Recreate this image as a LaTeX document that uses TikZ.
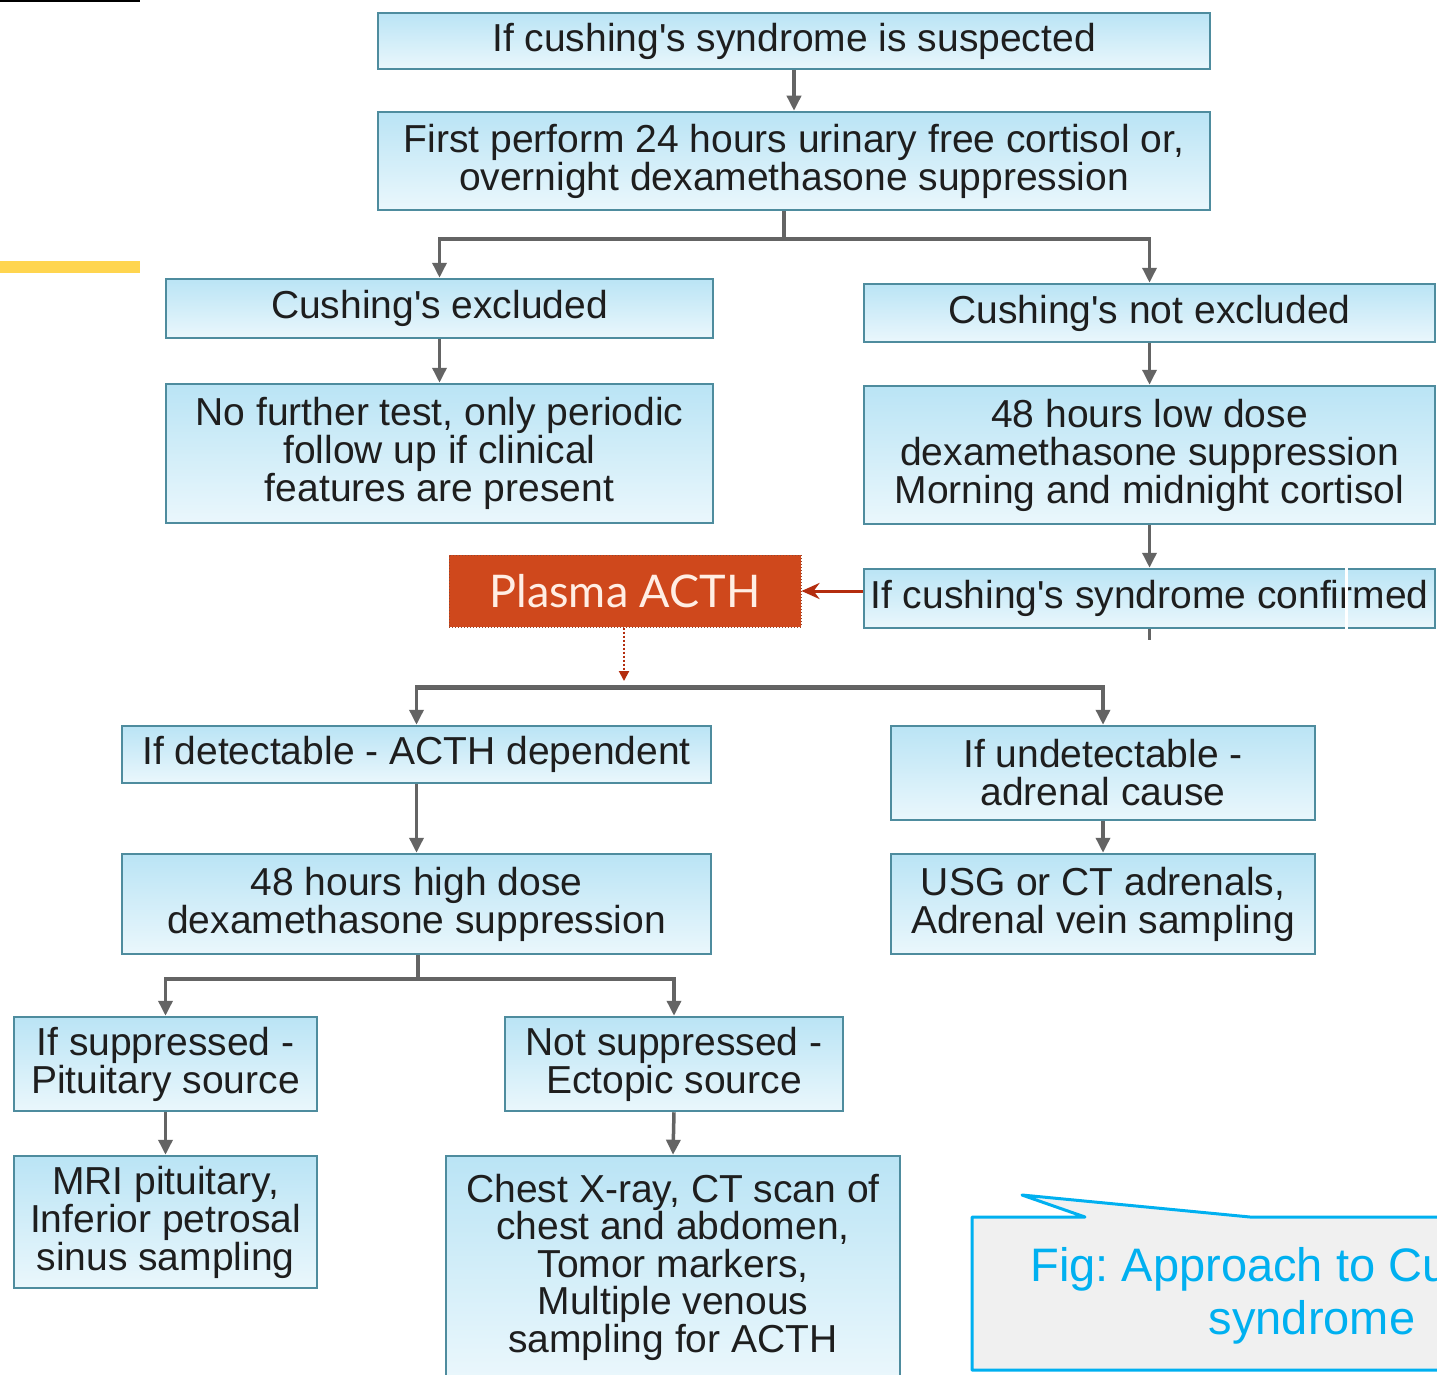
\documentclass[tikz,border=0pt]{standalone}
\usepackage{fontspec}
\setmainfont{Liberation Sans}
\newfontfamily\plasmafont{Lato}
\usetikzlibrary{arrows.meta}
\frenchspacing
\definecolor{boxtop}{RGB}{186,228,245}
\definecolor{boxbot}{RGB}{234,247,252}
\definecolor{boxedge}{RGB}{78,140,158}
\definecolor{arrowgray}{RGB}{100,100,100}
\definecolor{linegray}{RGB}{95,95,95}
\definecolor{acthred}{RGB}{207,72,28}
\definecolor{acthedge}{RGB}{150,70,45}
\definecolor{acthtext}{RGB}{255,238,228}
\definecolor{redarrow}{RGB}{180,45,15}
\definecolor{figblue}{RGB}{0,176,240}
\definecolor{figfill}{RGB}{240,240,240}
\definecolor{baryellow}{RGB}{255,213,79}
\definecolor{boxtext}{RGB}{30,30,30}
\begin{document}
\begin{tikzpicture}[x=1pt,y=-1pt,
  flowbox/.style={draw=boxedge, line width=2.5pt, top color=boxtop, bottom color=boxbot,
    inner sep=0pt, align=center, text=boxtext, font=\fontsize{39}{38}\selectfont},
  arr/.style={draw=arrowgray, line width=3.5pt, -{Triangle[width=14pt,length=15pt]}},
  ln/.style={draw=arrowgray, line width=3.5pt},
  redarr/.style={draw=redarrow, line width=3pt, -{Stealth[width=16pt,length=18pt]}},
]
\useasboundingbox (0,0) rectangle (1437,1375);
\fill[white] (0,0) rectangle (1437,1375);

% decorative marks at the left
\fill[black] (0,0) rectangle (140,2.5);
\fill[baryellow] (0,261) rectangle (140,273);

% boxes
\node[flowbox, minimum width=832pt, minimum height=56pt] (b1) at (794,41) {If cushing\textquotesingle s syndrome is suspected};
\node[flowbox, minimum width=832pt, minimum height=98pt] (b2) at (794,161) {First perform 24 hours urinary free cortisol or,\\overnight dexamethasone suppression};
\node[flowbox, minimum width=547pt, minimum height=59pt] (b3) at (439.5,308.5) {Cushing\textquotesingle s excluded};
\node[flowbox, minimum width=571pt, minimum height=58pt] (b4) at (1149.5,313) {Cushing\textquotesingle s not excluded};
\node[flowbox, minimum width=547pt, minimum height=139pt] (b5) at (439.5,453.5) {No further test, only periodic\\follow up if clinical\\features are present};
\node[flowbox, minimum width=571pt, minimum height=138pt] (b6) at (1149.5,455) {48 hours low dose\\dexamethasone suppression\\Morning and midnight cortisol};
\node[flowbox, minimum width=571pt, minimum height=59pt] (b7) at (1149.5,598.5) {If cushing\textquotesingle s syndrome confirmed};
\node[draw=acthedge, dotted, line width=1pt, fill=acthred, minimum width=352pt, minimum height=72pt,
  inner sep=0pt, text=acthtext, font=\plasmafont\fontsize{45}{45}\selectfont] (pa) at (625,591) {Plasma ACTH};
\node[flowbox, minimum width=589pt, minimum height=57pt] (b8) at (416.5,754.5) {If detectable - ACTH dependent};
\node[flowbox, minimum width=424pt, minimum height=94pt] (b9) at (1103,773) {If undetectable -\\adrenal cause};
\node[flowbox, minimum width=589pt, minimum height=100pt] (b10) at (416.5,904) {48 hours high dose\\dexamethasone suppression};
\node[flowbox, minimum width=424pt, minimum height=100pt] (b11) at (1103,904) {USG or CT adrenals,\\Adrenal vein sampling};
\node[flowbox, minimum width=303pt, minimum height=94pt] (b12) at (165.5,1064) {If suppressed -\\Pituitary source};
\node[flowbox, minimum width=338pt, minimum height=94pt] (b13) at (674,1064) {Not suppressed -\\Ectopic source};
\node[flowbox, minimum width=303pt, minimum height=132pt] (b14) at (165.5,1222) {MRI pituitary,\\Inferior petrosal\\sinus sampling};
\node[flowbox, minimum width=454pt, minimum height=222pt, font=\fontsize{39}{37.5}\selectfont] (b15) at (673,1267) {Chest X-ray, CT scan of\\chest and abdomen,\\Tomor markers,\\Multiple venous\\sampling for ACTH};

% connectors
\draw[arr] (b1.south) -- (b2.north);
\coordinate (j1) at (784,239);
\draw[ln] (b2.south -| j1) -- (j1);
\draw[arr] (j1) -| (b3.north);
\draw[arr] (j1) -| (b4.north);
\draw[arr] (b3.south) -- (b5.north);
\draw[arr] (b4.south) -- (b6.north);
\draw[arr] (b6.south) -- (b7.north);
\coordinate (s7) at (1149.5,640);
\draw[ln] (b7.south) -- (s7);
\draw[white, line width=3pt] (1346,562) -- (1346,640);
\draw[redarr] (pa.east -| b7.west) -- (pa.east);

\coordinate (dend) at (624,681);
\draw[draw=redarrow, dotted, line width=2pt, -{Triangle[width=10pt,length=10pt]}] (pa.south -| dend) -- (dend);
\coordinate (hl) at (624,687);
\draw[draw=linegray, line width=5pt] (b8.north |- hl) -- (b9.north |- hl);
\draw[arr] (hl) -| (b8.north);
\draw[arr] (hl) -| (b9.north);
\draw[arr] (b8.south) -- (b10.north);
\draw[arr] (b9.south) -- (b11.north);
\coordinate (j2) at (418,979);
\draw[ln] (b10.south -| j2) -- (j2);
\draw[arr] (j2) -| (b12.north);
\draw[arr] (j2) -| (b13.north);
\draw[arr] (b12.south) -- (b14.north);
\draw[arr] (b13.south) -- (b15.north);

% caption callout
\draw[draw=figblue, fill=figfill, line width=3pt, line join=round] (972,1217) -- (1085,1217) -- (1022,1195) -- (1250,1217) -- (1460,1217) -- (1460,1370) -- (972,1370) -- cycle;
\node[text=figblue, align=center, inner sep=0pt, font=\fontsize{47}{53}\selectfont] (cap) at (1312,1296) {Fig: Approach to Cushing\textquotesingle s\\syndrome};
\end{tikzpicture}
\end{document}
